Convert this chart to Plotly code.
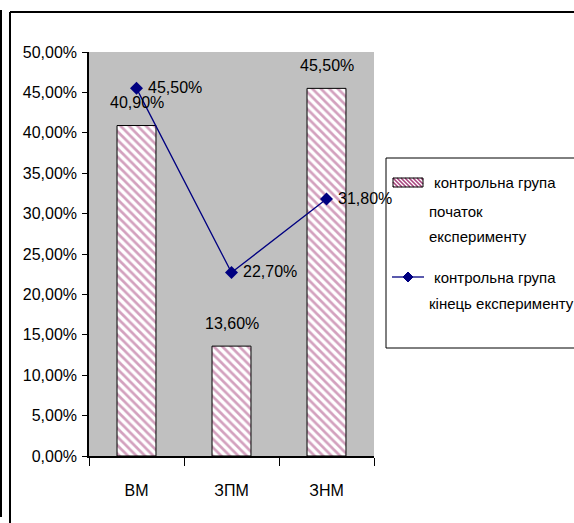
import plotly.graph_objects as go

# Data
categories = ["ВМ", "ЗПМ", "ЗНМ"]
start_values = [0.409, 0.136, 0.455]   # контрольна група, початок експерименту
end_values = [0.455, 0.227, 0.318]     # контрольна група, кінець експерименту
y_ticks = [0.0, 0.05, 0.10, 0.15, 0.20, 0.25, 0.30, 0.35, 0.40, 0.45, 0.50]
legend_start = ["контрольна група", "початок", "експерименту"]
legend_end = ["контрольна група", "кінець експерименту"]

FONT = "Liberation Sans Narrow, Arial Narrow, Liberation Sans, Arial, sans-serif"
FS = 16
FS_LEG = 15
HATCH = "#a8447e"

W, H = 574, 523
L, R, T, B = 89, 374, 52, 456          # plot area in pixels


def px(x):
    return (x - L) / (R - L)


def py(y):
    return (B - y) / (B - T)


def pct(v):
    return f"{v * 100:.2f}%".replace(".", ",")


fig = go.Figure()

fig.add_trace(go.Bar(
    x=categories, y=start_values, width=0.41,
    marker=dict(color="white", line=dict(color="black", width=1),
                pattern=dict(shape="\\", fgcolor=HATCH, bgcolor="white",
                             size=6, solidity=0.45)),
    showlegend=False,
))

fig.add_trace(go.Scatter(
    x=categories, y=end_values, mode="lines+markers",
    line=dict(color="#000080", width=1.3),
    marker=dict(symbol="diamond", size=10, color="#000080"),
    showlegend=False,
))

annotations = []
for c, v in zip(categories, start_values):
    annotations.append(dict(x=c, y=v, text=pct(v), showarrow=False,
                            yshift=23, font=dict(family=FONT, size=FS, color="black")))
for c, v in zip(categories, end_values):
    annotations.append(dict(x=c, y=v, text=pct(v), showarrow=False,
                            xanchor="left", xshift=9, yshift=1,
                            font=dict(family=FONT, size=FS, color="black")))

# Legend text
for i, (txt, y) in enumerate(zip(legend_start, [183, 211, 237])):
    annotations.append(dict(xref="paper", yref="paper", x=px(432 if i == 0 else 427), y=py(y),
                            text=txt, showarrow=False, xanchor="left", yanchor="middle",
                            font=dict(family=FONT, size=FS_LEG, color="black")))
for i, (txt, y) in enumerate(zip(legend_end, [277, 303])):
    annotations.append(dict(xref="paper", yref="paper", x=px(432 if i == 0 else 427), y=py(y),
                            text=txt, showarrow=False, xanchor="left", yanchor="middle",
                            font=dict(family=FONT, size=FS_LEG, color="black")))

shapes = []
# outer frame
shapes.append(dict(type="line", xref="paper", yref="paper", x0=px(10), x1=px(10),
                   y0=py(12), y1=py(523), line=dict(color="black", width=2)))
shapes.append(dict(type="line", xref="paper", yref="paper", x0=px(10), x1=px(580),
                   y0=py(12), y1=py(12), line=dict(color="black", width=2)))
shapes.append(dict(type="line", xref="paper", yref="paper", x0=px(1), x1=px(1),
                   y0=py(10), y1=py(517), line=dict(color="black", width=2)))
# legend box
shapes.append(dict(type="rect", xref="paper", yref="paper", x0=px(386), x1=px(590),
                   y0=py(158), y1=py(348), line=dict(color="black", width=1),
                   fillcolor="white"))
# legend swatch: hatched rectangle
sx0, sx1, sy0, sy1 = 393, 423, 178, 187
hatch = ""
step = 4
for k in range(-12, 40, step):
    xa, xb = sx0 + k, sx0 + k + (sy1 - sy0)
    ya, yb = sy0, sy1
    if xa < sx0:
        ya += sx0 - xa
        xa = sx0
    if xb > sx1:
        yb -= xb - sx1
        xb = sx1
    if xa < xb and ya < yb:
        hatch += f"M{px(xa)},{py(ya)} L{px(xb)},{py(yb)} "
shapes.append(dict(type="path", xref="paper", yref="paper", path=hatch,
                   line=dict(color=HATCH, width=1.6)))
shapes.append(dict(type="rect", xref="paper", yref="paper", x0=px(sx0), x1=px(sx1),
                   y0=py(sy0), y1=py(sy1), line=dict(color="black", width=1)))
# legend swatch: line with diamond
shapes.append(dict(type="line", xref="paper", yref="paper", x0=px(392), x1=px(424),
                   y0=py(277), y1=py(277), line=dict(color="#000080", width=1.3)))
cx, cy, d = 408, 277, 5
shapes.append(dict(type="path", xref="paper", yref="paper",
                   path=f"M{px(cx - d)},{py(cy)} L{px(cx)},{py(cy - d)} L{px(cx + d)},{py(cy)} L{px(cx)},{py(cy + d)} Z",
                   fillcolor="#000080", line=dict(color="#000080", width=1)))

fig.update_layout(
    width=W, height=H,
    margin=dict(l=L, r=W - R, t=T, b=H - B, pad=0),
    paper_bgcolor="white", plot_bgcolor="#c0c0c0",
    separators=",.",
    font=dict(family=FONT, size=FS, color="black"),
    annotations=annotations, shapes=shapes,
    xaxis=dict(type="category", tickson="boundaries", ticks="outside", ticklen=8,
               tickcolor="black", showline=True, linecolor="black", linewidth=1.5,
               showgrid=False, zeroline=False, tickfont=dict(family=FONT, size=FS),
               ticklabelstandoff=19, range=[-0.5, 2.5]),
    yaxis=dict(range=[0, 0.5], tickvals=y_ticks, tickformat=".2%", ticks="outside",
               ticklen=5, tickcolor="black", showline=True, linecolor="black",
               linewidth=1.5, showgrid=False, zeroline=False,
               ticklabelstandoff=2, tickfont=dict(family=FONT, size=FS)),
)

fig.write_html("out.html")
